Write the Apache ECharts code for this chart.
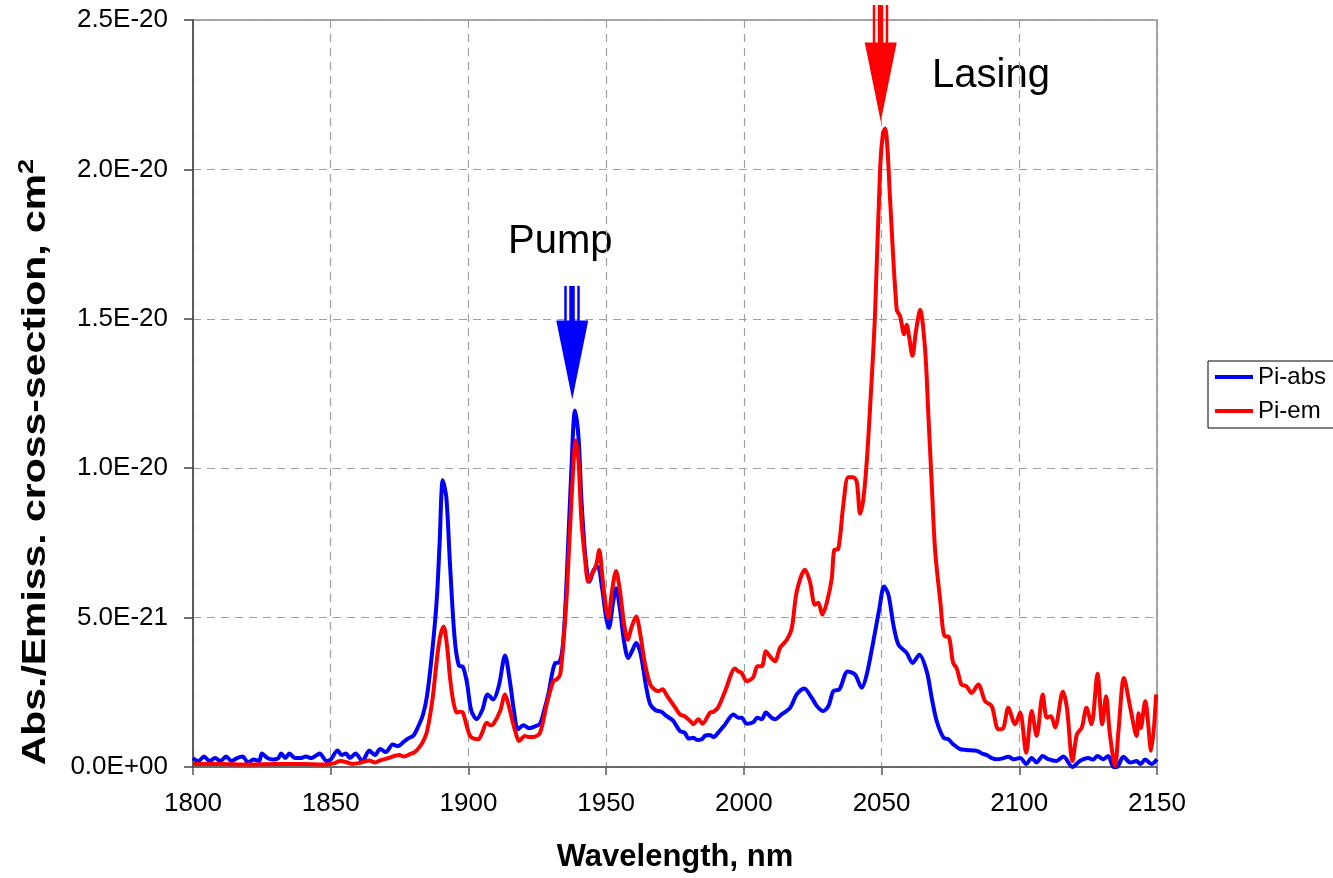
<!DOCTYPE html>
<html>
<head>
<meta charset="utf-8">
<script src="https://cdn.jsdelivr.net/npm/echarts@6/dist/echarts.min.js"></script>
<style>
html,body{margin:0;padding:0;background:#fff;}
#chart{width:1333px;height:878px;}
</style>
</head>
<body>
<div id="chart"></div>
<script>
// Values in units of 1E-21 cm^2
const xTicks = [1800, 1850, 1900, 1950, 2000, 2050, 2100, 2150];
const yTicks = [0, 5, 10, 15, 20, 25];

const absX = [1800,1802,1804,1806,1808,1810,1812,1814,1816,1818,1820,1822,1824,1825,1827,1829,1831,1832,1833.5,1835,1837,1839,1841,1843,1845,1846,1848.5,1850,1852.5,1854,1855.5,1857,1859,1861.5,1864,1866,1868,1870,1872.5,1874.5,1876,1878,1880,1881.5,1883.5,1885,1887,1888.5,1889.5,1890.7,1892,1893.3,1895,1896.5,1898,1899.5,1901,1903,1905,1907,1909,1911,1913.3,1915,1916.5,1918,1920,1922,1924,1926,1927.5,1929,1931.5,1933,1934.5,1936,1937.3,1938.7,1940,1941,1942.5,1944,1945.5,1947,1948.5,1950,1951,1952.5,1953.6,1955,1956.5,1958,1959.5,1960.9,1962.5,1964.5,1966,1968,1970,1972,1974.3,1976.8,1978.5,1980,1981.7,1983,1984.7,1986,1987.7,1989,1990.7,1993,1996.2,1998,1999.2,2001,2003.4,2004.9,2006.5,2008,2010,2011.3,2013.7,2016.8,2019.2,2021.9,2024.6,2026.5,2028.7,2030.7,2032.5,2034.7,2037.7,2040.4,2042.8,2044.6,2047,2049.2,2050.9,2052.5,2054.3,2056.1,2059.1,2061.3,2063.7,2066.4,2068.2,2070,2072.5,2074.2,2076,2078.5,2080.8,2084.6,2086.5,2088.2,2090,2091.8,2093.6,2096,2098,2100.3,2102.5,2104.5,2106.3,2108.5,2110.5,2113.5,2116,2119.3,2122,2125,2126.8,2128.4,2130.5,2132.3,2134.2,2135.4,2137.8,2140.3,2142.6,2144,2145.7,2148,2150];
const absY = [0.3,0.2,0.35,0.2,0.3,0.2,0.35,0.2,0.3,0.35,0.15,0.25,0.2,0.45,0.3,0.25,0.3,0.45,0.3,0.45,0.3,0.3,0.35,0.3,0.4,0.45,0.2,0.25,0.55,0.4,0.45,0.3,0.45,0.2,0.55,0.4,0.6,0.5,0.75,0.7,0.8,0.95,1.05,1.3,1.75,2.4,4.0,5.6,7.4,9.6,9.0,6.8,4.3,3.4,3.35,2.8,1.9,1.6,1.9,2.43,2.26,2.7,3.73,2.9,1.9,1.26,1.4,1.3,1.35,1.45,1.9,2.43,3.48,3.5,4.3,7.0,9.8,11.93,11.0,9.0,7.0,6.2,6.6,6.7,6.0,5.0,4.65,5.5,5.98,5.3,4.2,3.65,3.9,4.15,3.8,2.7,2.1,1.9,1.85,1.7,1.55,1.2,1.15,0.95,0.98,0.9,0.93,1.05,1.07,1.0,1.15,1.4,1.76,1.65,1.65,1.45,1.5,1.65,1.6,1.82,1.65,1.6,1.76,1.98,2.43,2.63,2.32,2.04,1.87,2.04,2.54,2.6,3.2,3.09,2.65,3.09,4.2,5.3,6.04,5.76,4.76,4.1,3.82,3.48,3.76,3.2,2.32,1.54,0.98,0.93,0.76,0.6,0.57,0.54,0.45,0.4,0.3,0.26,0.28,0.34,0.26,0.3,0.1,0.3,0.15,0.37,0.26,0.2,0.35,0.0,0.2,0.3,0.25,0.37,0.26,0.37,0.0,0.0,0.34,0.15,0.2,0.1,0.25,0.1,0.26];

const emX = [1800,1810,1820,1830,1840,1848,1851,1853.6,1856,1858,1861,1864,1866,1868,1871,1874.9,1876.5,1878.8,1880.5,1882,1883.5,1885,1887,1888.3,1889.6,1891,1892.3,1893.3,1894.5,1895.8,1897,1898,1899.3,1900.6,1902,1903.6,1905,1906.6,1908,1909,1911.5,1913.3,1914.5,1915.7,1917,1918.4,1920.5,1922,1923.6,1926,1928.4,1930.8,1932,1933.3,1934.5,1935.7,1937.5,1939,1940,1941,1942.3,1943.5,1944.5,1945.4,1946.5,1947.5,1948.5,1949.7,1950.8,1952,1953.6,1955,1956.5,1957.8,1959.3,1960.9,1962.3,1964,1966,1967.5,1969,1970.5,1972,1973.5,1975,1976.8,1978.5,1980.5,1981.7,1983.5,1985,1987.7,1989,1990.7,1993.2,1996.8,1998,1999.2,2001,2003.4,2004.9,2006.5,2008,2009.5,2011.3,2013.1,2015.6,2017.4,2019.2,2022.2,2024,2025.8,2027,2028.5,2030.1,2031.9,2032.8,2034.3,2036.1,2037.9,2039.7,2041,2042.2,2043.4,2044.6,2045.8,2047.6,2049.5,2050.5,2051.3,2052.2,2053.1,2055.5,2056.7,2058.2,2059.1,2060,2061.2,2062.5,2064,2065.8,2067,2068.2,2069.4,2071.2,2073,2074.2,2076,2077.3,2079,2080.8,2082.7,2085.1,2087.6,2090,2092.4,2094.2,2096,2098.5,2100.3,2102.5,2104.5,2106.3,2108.5,2110,2111.5,2113,2115.8,2117.3,2119.3,2120.9,2122.7,2124.4,2126.2,2128.4,2130.1,2131.5,2132.9,2134.8,2136,2138,2140.3,2142.6,2143.3,2144.1,2145.7,2147.9,2149.7];
const emY = [0.1,0.1,0.08,0.1,0.1,0.08,0.12,0.2,0.15,0.1,0.15,0.22,0.15,0.22,0.3,0.4,0.35,0.43,0.5,0.64,0.85,1.2,2.3,3.4,4.3,4.7,4.0,3.0,2.2,1.82,1.85,1.82,1.4,1.04,0.95,0.93,1.15,1.48,1.4,1.43,1.87,2.43,2.1,1.65,1.2,0.87,1.04,1.0,1.0,1.15,2.09,2.87,2.93,3.09,4.2,5.76,9.1,10.93,10.2,8.3,7.0,6.2,6.4,6.54,6.8,7.26,6.5,5.5,4.98,5.8,6.56,5.9,4.8,4.26,4.7,5.04,4.5,3.5,2.76,2.6,2.54,2.6,2.4,2.2,2.0,1.76,1.7,1.54,1.43,1.6,1.45,1.82,1.85,2.0,2.54,3.3,3.2,3.15,2.87,3.0,3.37,3.37,3.87,3.7,3.54,3.98,4.26,4.65,5.87,6.6,6.2,5.43,5.5,5.1,5.5,6.3,7.26,7.3,8.76,9.7,9.7,9.54,8.48,8.98,10.2,11.98,15.1,20.1,21.2,21.37,20.6,18.98,15.3,15.1,14.48,14.8,14.4,13.76,14.6,15.3,13.98,11.76,9.5,7.3,5.65,4.37,4.37,3.48,3.3,2.76,2.7,2.48,2.76,2.2,2.04,1.26,1.3,1.98,1.43,1.82,0.48,1.87,1.04,2.43,1.65,1.7,1.32,2.52,1.98,0.2,1.09,1.32,1.98,1.43,3.12,1.43,2.37,1.09,0.04,1.2,2.98,1.98,1.04,1.8,1.3,2.2,0.54,2.43];

// Annotation arrows: [wavelength, tip value, tail value]
const arrowNames = ['Pump', 'Lasing'];
const arrowX = [1937.7, 2049.7];
const arrowTip = [12.3, 21.6];
const arrowTail = [16.1, 25.5];
const arrowColors = ['#0000ff', '#ff0000'];

const yTitle = 'Abs./Emiss. cross-section, cm';
const xTitle = 'Wavelength, nm';

function pairs(xs, ys) { return xs.map((x, i) => [x, ys[i]]); }

function fmtSci(v) {
  if (v === 0) return '0.0E+00';
  let s = (v * 1e-21).toExponential(1).toUpperCase();
  return s.replace(/E([+-])(\d)$/, 'E$10$2');
}

const FONT = '"Liberation Sans", Arial, sans-serif';
const chart = echarts.init(document.getElementById('chart'), null, {renderer: 'canvas'});

const option = {
  animation: false,
  backgroundColor: '#ffffff',
  textStyle: {fontFamily: FONT},
  grid: {left: 193, top: 20, right: 176, bottom: 108.5, show: true, borderColor: '#8c8c8c', borderWidth: 1.5, backgroundColor: 'transparent'},
  legend: {
    data: ['Pi-abs', 'Pi-em'],
    orient: 'vertical',
    left: 1208, top: 361,
    icon: 'rect', itemWidth: 38, itemHeight: 4, itemGap: 6,
    padding: [2, 12, 3, 7],
    borderColor: '#000', borderWidth: 1,
    textStyle: {fontFamily: FONT, fontSize: 24, color: '#000', lineHeight: 28}
  },
  xAxis: {
    type: 'value', min: 1800, max: 2150, interval: 50,
    name: xTitle, nameLocation: 'middle', nameGap: 75,
    nameTextStyle: {fontFamily: FONT, fontSize: 31, fontWeight: 'bold', color: '#000'},
    axisLine: {lineStyle: {color: '#555', width: 1.5}},
    axisTick: {show: true, inside: false, length: 8, lineStyle: {color: '#555', width: 1.5}},
    axisLabel: {fontFamily: FONT, fontSize: 26, color: '#000', margin: 24,
      formatter: v => xTicks.indexOf(v) >= 0 ? String(v) : ''},
    splitLine: {show: true, lineStyle: {color: '#a0a0a0', type: [8, 6], width: 1.2}}
  },
  yAxis: {
    type: 'value', min: 0, max: 25, interval: 5,
    axisLine: {show: true, lineStyle: {color: '#444', width: 1.5}},
    axisTick: {show: true, inside: false, length: 9, lineStyle: {color: '#444', width: 1.5}},
    axisLabel: {fontFamily: FONT, fontSize: 26, color: '#000', margin: 25,
      formatter: v => yTicks.indexOf(v) >= 0 ? fmtSci(v) : ''},
    splitLine: {show: true, lineStyle: {color: '#a0a0a0', type: [8, 6], width: 1.2}}
  },
  series: [
    {name: 'Pi-abs', type: 'line', data: pairs(absX, absY), showSymbol: false, smooth: 0.3,
      lineStyle: {color: '#0000ff', width: 4}, itemStyle: {color: '#0000ff'}, z: 3},
    {name: 'Pi-em', type: 'line', data: pairs(emX, emY), showSymbol: false, smooth: 0.3,
      lineStyle: {color: '#ff0000', width: 4}, itemStyle: {color: '#ff0000'}, z: 4},
    {name: 'arrows', type: 'custom', coordinateSystem: 'cartesian2d', z: 10, silent: true,
      data: arrowX.map((x, i) => [x, arrowTip[i], arrowTail[i]]),
      encode: {x: 0, y: [1, 2]},
      renderItem: function (params, api) {
        const tip = api.coord([api.value(0), api.value(1)]);
        const tail = api.coord([api.value(0), api.value(2)]);
        const color = arrowColors[params.dataIndex];
        const headH = 79, headW = 16;
        const cx = tip[0];
        const headTop = tip[1] - headH;
        const shaftH = headTop - tail[1] + 1;
        return {
          type: 'group',
          children: [
            {type: 'rect', shape: {x: cx - 8, y: tail[1], width: 2.5, height: shaftH}, style: {fill: color}},
            {type: 'rect', shape: {x: cx - 3, y: tail[1], width: 5.5, height: shaftH}, style: {fill: color}},
            {type: 'rect', shape: {x: cx + 5, y: tail[1], width: 2.5, height: shaftH}, style: {fill: color}},
            {type: 'polygon', shape: {points: [[cx - headW, headTop], [cx + headW, headTop], [cx, tip[1]]]}, style: {fill: color}}
          ]
        };
      }
    }
  ],
  graphic: [
    {type: 'text', left: 508, top: 222, style: {text: arrowNames[0], font: '40px ' + FONT, fill: '#000'}},
    {type: 'text', left: 932, top: 56, style: {text: arrowNames[1], font: '40px ' + FONT, fill: '#000'}},
    {type: 'text', x: 36, y: 462, rotation: Math.PI / 2, scaleX: 1.24,
      style: {text: yTitle + '{sup|2}', font: 'bold 33px ' + FONT, fill: '#000',
        align: 'center', verticalAlign: 'middle',
        rich: {sup: {font: 'bold 22px ' + FONT, fill: '#000', verticalAlign: 'top', lineHeight: 40}}}}
  ]
};
chart.setOption(option);
</script>
</body>
</html>
